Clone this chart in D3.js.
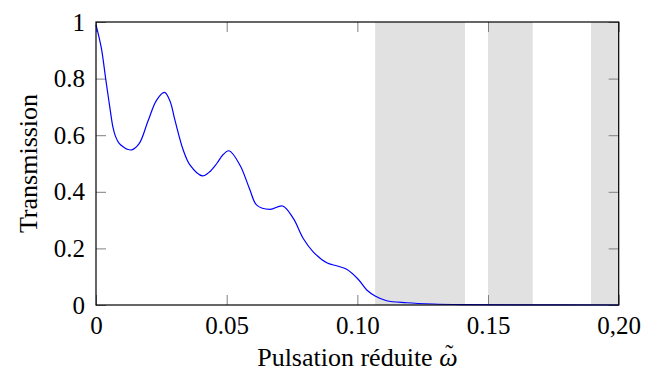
<!DOCTYPE html>
<html>
<head>
<meta charset="utf-8">
<script src="https://cdn.jsdelivr.net/npm/d3@7"></script>
<style>
  body { margin: 0; background: #fff; }
</style>
</head>
<body>
<svg id="chart"></svg>
<script>
// values
const omega = [0, 0.002, 0.0037, 0.0055, 0.0065, 0.0075, 0.0088, 0.0105, 0.0118, 0.01365,
  0.0165, 0.0199, 0.0232, 0.0262, 0.0283, 0.0302, 0.0334, 0.036, 0.0407, 0.0434,
  0.0462, 0.0485, 0.0509, 0.0551, 0.0587, 0.0615, 0.0666, 0.0714, 0.0755, 0.0793,
  0.0831, 0.0883, 0.0923, 0.0959, 0.1004, 0.1036, 0.1068, 0.1112, 0.1189, 0.129,
  0.14, 0.16, 0.2];
const transmission = [0.99, 0.91, 0.80, 0.685, 0.628, 0.595, 0.572, 0.558, 0.551, 0.548,
  0.57, 0.65, 0.724, 0.751, 0.721, 0.653, 0.547, 0.494, 0.456, 0.47,
  0.50, 0.53, 0.545, 0.494, 0.412, 0.353, 0.338, 0.350, 0.306, 0.235,
  0.188, 0.149, 0.138, 0.126, 0.090, 0.053, 0.032, 0.015, 0.008, 0.0035,
  0.0015, 0.0005, 0.0];

// band gaps (shaded)
const bandStart = [0.1068, 0.150, 0.1894];
const bandEnd = [0.1412, 0.1671, 0.20];

const xTicks = [0, 0.05, 0.10, 0.15, 0.20];
const xTickLabels = ["0", "0.05", "0.10", "0.15", "0,20"];
const yTicks = [0, 0.2, 0.4, 0.6, 0.8, 1];
const yTickLabels = ["0", "0.2", "0.4", "0.6", "0.8", "1"];

const xLabel = "Pulsation réduite ";
const yLabel = "Transmission";

const FONT = 'Liberation Serif, Times New Roman, serif';

const config = {
  width: 658, height: 376,
  margin: { top: 22, right: 39.3, bottom: 71, left: 96 }
};
const m = config.margin;

const svg = d3.select('#chart')
    .attr('width', config.width)
    .attr('height', config.height)
    .attr('font-family', FONT);

const width = config.width - m.left - m.right;
const height = config.height - m.top - m.bottom;

const chart = svg.append('g')
    .attr('transform', `translate(${m.left},${m.top})`);

const xScale = d3.scaleLinear().domain([0, 0.2]).range([0, width]);
const yScale = d3.scaleLinear().domain([0, 1]).range([height, 0]);

// shaded bands
chart.selectAll('rect.band')
    .data(bandStart.map((s, i) => ({ s, e: bandEnd[i] })))
    .enter()
  .append('rect')
    .attr('class', 'band')
    .attr('x', d => xScale(d.s))
    .attr('width', d => xScale(d.e) - xScale(d.s))
    .attr('y', yScale(1))
    .attr('height', yScale(0) - yScale(1))
    .attr('fill', '#e1e1e1');

// axes with inward ticks
const tickColor = '#808080';
const fmtX = d => xTickLabels[xTicks.indexOf(d)];
const fmtY = d => yTickLabels[yTicks.indexOf(d)];

const xAxisG = chart.append('g')
    .attr('transform', `translate(0,${height})`)
    .call(d3.axisBottom(xScale).tickValues(xTicks).tickFormat(fmtX)
      .tickSize(-10).tickPadding(11));
const yAxisG = chart.append('g')
    .call(d3.axisLeft(yScale).tickValues(yTicks).tickFormat(fmtY)
      .tickSize(-10).tickPadding(11));
const topG = chart.append('g')
    .call(d3.axisTop(xScale).tickValues(xTicks).tickFormat('').tickSize(-10));
const rightG = chart.append('g')
    .attr('transform', `translate(${width},0)`)
    .call(d3.axisRight(yScale).tickValues(yTicks).tickFormat('').tickSize(-10));

[xAxisG, yAxisG, topG, rightG].forEach(g => {
  g.attr('font-family', FONT).attr('font-size', 25);
  g.select('.domain').remove();
  g.selectAll('.tick line').attr('stroke', tickColor).attr('stroke-width', 1);
  g.selectAll('.tick text')
      .attr('font-family', FONT)
      .attr('font-size', 25)
      .attr('fill', '#000');
});

// curve
const pts = omega.map((w, i) => ({ w, t: transmission[i] }));
const line = d3.line()
    .x(d => xScale(d.w))
    .y(d => yScale(d.t))
    .curve(d3.curveCatmullRom.alpha(0.5));

chart.append('path')
    .datum(pts)
    .attr('d', line)
    .attr('fill', 'none')
    .attr('stroke', '#0000ff')
    .attr('stroke-width', 1.2);

// frame
chart.append('rect')
    .attr('width', width)
    .attr('height', height)
    .attr('fill', 'none')
    .attr('stroke', '#000')
    .attr('stroke-width', 1.2);

// axis titles
const xt = chart.append('text')
    .attr('x', width / 2)
    .attr('y', height + 61)
    .attr('text-anchor', 'middle')
    .attr('font-family', FONT)
    .attr('font-size', 26);
xt.append('tspan').text(xLabel);
const om = xt.append('tspan').attr('font-style', 'italic').text('ω');

// tilde over omega
const ob = om.node().getBBox();
chart.append('text')
    .attr('x', ob.x + ob.width / 2 + 1)
    .attr('y', height + 61 - 5)
    .attr('text-anchor', 'middle')
    .attr('font-family', FONT)
    .attr('font-size', 24)
    .text('˜');

chart.append('text')
    .attr('transform', 'rotate(-90)')
    .attr('x', -height / 2)
    .attr('y', 36.7 - m.left)
    .attr('text-anchor', 'middle')
    .attr('font-family', FONT)
    .attr('font-size', 26)
    .text(yLabel);
</script>
</body>
</html>
